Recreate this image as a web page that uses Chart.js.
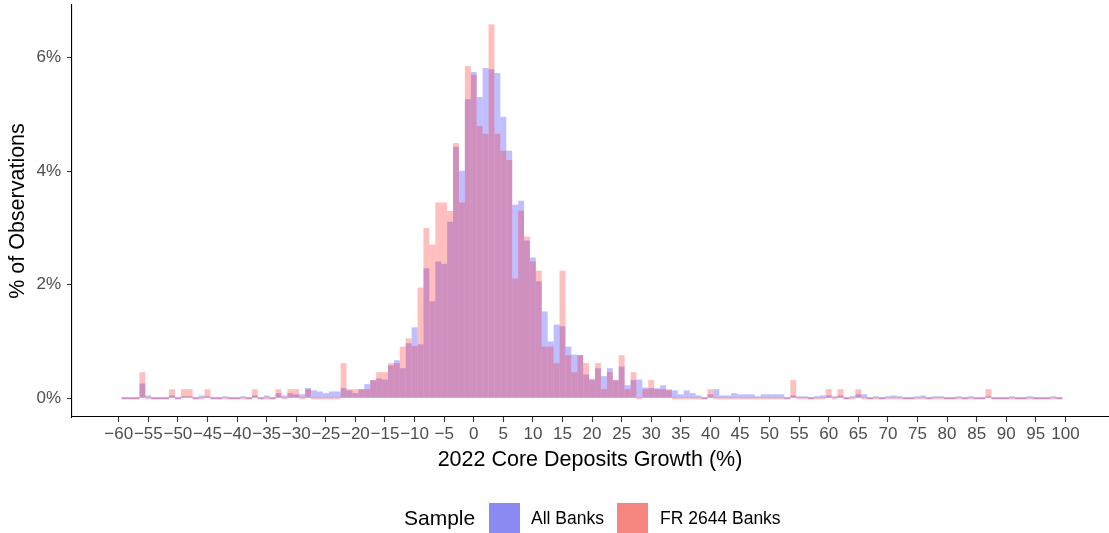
<!DOCTYPE html>
<html>
<head>
<meta charset="utf-8">
<title>2022 Core Deposits Growth</title>
<script src="https://cdn.jsdelivr.net/npm/chart.js@4.4.0/dist/chart.umd.min.js"></script>
<style>
  html, body { margin: 0; padding: 0; background: #fff; }
  #wrap { position: relative; width: 1109px; height: 533px; overflow: hidden; font-family: 'Liberation Sans', Arial, Helvetica, sans-serif; }
  #myChart { position: absolute; left: 0; top: 0; }
  .lg { position: absolute; white-space: nowrap; color: #000; }
  .lg-title { left: 404px; top: 505px; font-size: 21px; line-height: 26px; }
  .lg-key { top: 503px; width: 31px; height: 31px; }
  .lg-text { top: 508px; font-size: 17.5px; line-height: 20px; }
</style>
</head>
<body>
<div id="wrap">
  <canvas id="myChart" width="1109" height="533"></canvas>
  <div class="lg lg-title">Sample</div>
  <div class="lg lg-key" style="left:489px; background:#8b89f2;"></div>
  <div class="lg lg-text" style="left:531px;">All Banks</div>
  <div class="lg lg-key" style="left:617px; background:#f4857f;"></div>
  <div class="lg lg-text" style="left:660px;">FR 2644 Banks</div>
</div>
<script>
// bin centres (1 point wide bins), -59 .. 99
const binCenters = [
  -59, -58, -57, -56, -55, -54, -53, -52, -51, -50,
  -49, -48, -47, -46, -45, -44, -43, -42, -41, -40,
  -39, -38, -37, -36, -35, -34, -33, -32, -31, -30,
  -29, -28, -27, -26, -25, -24, -23, -22, -21, -20,
  -19, -18, -17, -16, -15, -14, -13, -12, -11, -10,
  -9, -8, -7, -6, -5, -4, -3, -2, -1, 0,
  1, 2, 3, 4, 5, 6, 7, 8, 9, 10,
  11, 12, 13, 14, 15, 16, 17, 18, 19, 20,
  21, 22, 23, 24, 25, 26, 27, 28, 29, 30,
  31, 32, 33, 34, 35, 36, 37, 38, 39, 40,
  41, 42, 43, 44, 45, 46, 47, 48, 49, 50,
  51, 52, 53, 54, 55, 56, 57, 58, 59, 60,
  61, 62, 63, 64, 65, 66, 67, 68, 69, 70,
  71, 72, 73, 74, 75, 76, 77, 78, 79, 80,
  81, 82, 83, 84, 85, 86, 87, 88, 89, 90,
  91, 92, 93, 94, 95, 96, 97, 98, 99
];

// % of observations, All Banks
const allBanks = [
  0, 0, 0, 0.26, 0.05, 0, 0, 0, 0.05, 0,
  0.035, 0.035, 0, 0.05, 0.035, 0, 0, 0.035, 0, 0,
  0.035, 0, 0.05, 0, 0.05, 0, 0.09, 0.05, 0.09, 0.07,
  0.07, 0.18, 0.14, 0.12, 0.09, 0.12, 0.12, 0.18, 0.14, 0.09,
  0.16, 0.25, 0.32, 0.35, 0.33, 0.58, 0.67, 0.53, 0.97, 1.25,
  0.95, 2.29, 1.71, 2.41, 2.37, 3.11, 4.43, 4.01, 5.27, 5.75,
  5.31, 5.82, 5.80, 5.73, 4.96, 4.36, 3.41, 3.48, 2.78, 2.48,
  2.06, 1.53, 1.00, 1.30, 1.27, 0.91, 0.77, 0.76, 0.42, 0.34,
  0.53, 0.39, 0.53, 0.32, 0.56, 0.23, 0.32, 0.33, 0.19, 0.18,
  0.175, 0.23, 0.14, 0.14, 0.07, 0.14, 0.09, 0.05, 0, 0.07,
  0.16, 0.05, 0.05, 0.09, 0.07, 0.07, 0.07, 0.035, 0.07, 0.07,
  0.07, 0.07, 0, 0.05, 0.035, 0.035, 0, 0.035, 0.05, 0.05,
  0.035, 0.05, 0, 0.035, 0.07, 0.07, 0, 0.035, 0, 0.035,
  0.05, 0.035, 0, 0, 0.035, 0.05, 0, 0.035, 0.035, 0,
  0, 0.035, 0, 0.035, 0, 0, 0.035, 0, 0, 0,
  0.035, 0, 0, 0.035, 0, 0, 0, 0.035, 0
];

// % of observations, FR 2644 Banks
const frBanks = [
  0, 0, 0, 0.46, 0, 0, 0, 0, 0.16, 0,
  0.16, 0.16, 0, 0, 0.16, 0, 0, 0, 0, 0,
  0, 0, 0.16, 0, 0, 0, 0.16, 0, 0.16, 0.16,
  0, 0.16, 0, 0, 0, 0, 0, 0.62, 0.16, 0.16,
  0.16, 0.16, 0.32, 0.46, 0.46, 0.62, 0.62, 0.91, 1.055, 0.92,
  1.95, 3.0, 2.71, 3.45, 3.45, 3.30, 4.50, 3.45, 5.855, 5.70,
  4.80, 4.66, 6.59, 4.66, 4.36, 4.20, 2.11, 3.31, 2.85, 2.41,
  2.25, 0.91, 0.91, 0.62, 2.25, 0.76, 0.46, 0.76, 0.62, 0.32,
  0.62, 0.16, 0.46, 0.32, 0.76, 0.16, 0.46, 0, 0.16, 0.32,
  0.16, 0.16, 0.16, 0, 0, 0, 0, 0, 0, 0.16,
  0, 0, 0, 0, 0, 0, 0, 0, 0, 0,
  0, 0, 0, 0.32, 0, 0, 0, 0, 0, 0.16,
  0, 0.16, 0, 0, 0.16, 0, 0, 0, 0, 0,
  0, 0, 0, 0, 0, 0, 0, 0, 0, 0,
  0, 0, 0, 0, 0, 0, 0.16, 0, 0, 0,
  0, 0, 0, 0, 0, 0, 0, 0, 0
];

const xTicks = [-60, -55, -50, -45, -40, -35, -30, -25, -20, -15, -10, -5, 0, 5, 10, 15, 20, 25, 30, 35, 40, 45, 50, 55, 60, 65, 70, 75, 80, 85, 90, 95, 100];
const yTicks = [0, 2, 4, 6];

const ctx = document.getElementById('myChart');
const fontFamily = "'Liberation Sans', Arial, Helvetica, sans-serif";

const barStyle = {
  grouped: false,
  barPercentage: 1,
  categoryPercentage: 1,
  borderWidth: 0,
  inflateAmount: 0,
  minBarLength: 2
};

const myChart = new Chart(ctx, {
  type: 'bar',
  data: {
    datasets: [
      Object.assign({
        label: 'FR 2644 Banks',
        data: binCenters.map((x, i) => ({ x: x, y: frBanks[i] })),
        backgroundColor: 'rgba(255, 0, 0, 0.25)',
        order: 0
      }, barStyle),
      Object.assign({
        label: 'All Banks',
        data: binCenters.map((x, i) => ({ x: x, y: allBanks[i] })),
        backgroundColor: 'rgba(0, 0, 255, 0.25)',
        order: 1
      }, barStyle)
    ]
  },
  options: {
    responsive: false,
    animation: false,
    devicePixelRatio: 1,
    layout: { padding: { left: 0, right: 1, top: 5, bottom: 58 } },
    plugins: {
      legend: { display: false },
      tooltip: { enabled: false }
    },
    scales: {
      x: {
        type: 'linear',
        min: -67.9,
        max: 107.2,
        offset: false,
        border: { display: true, color: '#000', width: 1.1 },
        grid: { display: true, offset: false, drawOnChartArea: false, drawTicks: true, tickLength: 5, tickColor: '#333', tickWidth: 1.1 },
        afterBuildTicks: s => { s.ticks = xTicks.map(v => ({ value: v })); },
        afterFit: s => { s.height = 58; s.paddingLeft = 0; s.paddingRight = 0; },
        ticks: {
          autoSkip: false,
          maxRotation: 0,
          minRotation: 0,
          padding: 2,
          color: '#4d4d4d',
          font: { family: fontFamily, size: 17 },
          callback: v => String(v).replace('-', '\u2212')
        },
        title: {
          display: true,
          text: '2022 Core Deposits Growth (%)',
          color: '#000',
          font: { family: fontFamily, size: 21.5 },
          padding: { top: 0, bottom: 2.2 }
        }
      },
      y: {
        min: -0.33,
        max: 6.93,
        border: { display: true, color: '#000', width: 1.1 },
        grid: { display: true, drawOnChartArea: false, drawTicks: true, tickLength: 5, tickColor: '#333', tickWidth: 1.1 },
        afterBuildTicks: s => { s.ticks = yTicks.map(v => ({ value: v })); },
        afterFit: s => { s.width = 72; s.paddingTop = 0; s.paddingBottom = 0; },
        ticks: {
          padding: 6,
          color: '#4d4d4d',
          font: { family: fontFamily, size: 17 },
          callback: v => v + '%'
        },
        title: {
          display: true,
          text: '% of Observations',
          color: '#000',
          font: { family: fontFamily, size: 21.5 },
          padding: { top: 5, bottom: 0 }
        }
      }
    }
  }
});
</script>
</body>
</html>
